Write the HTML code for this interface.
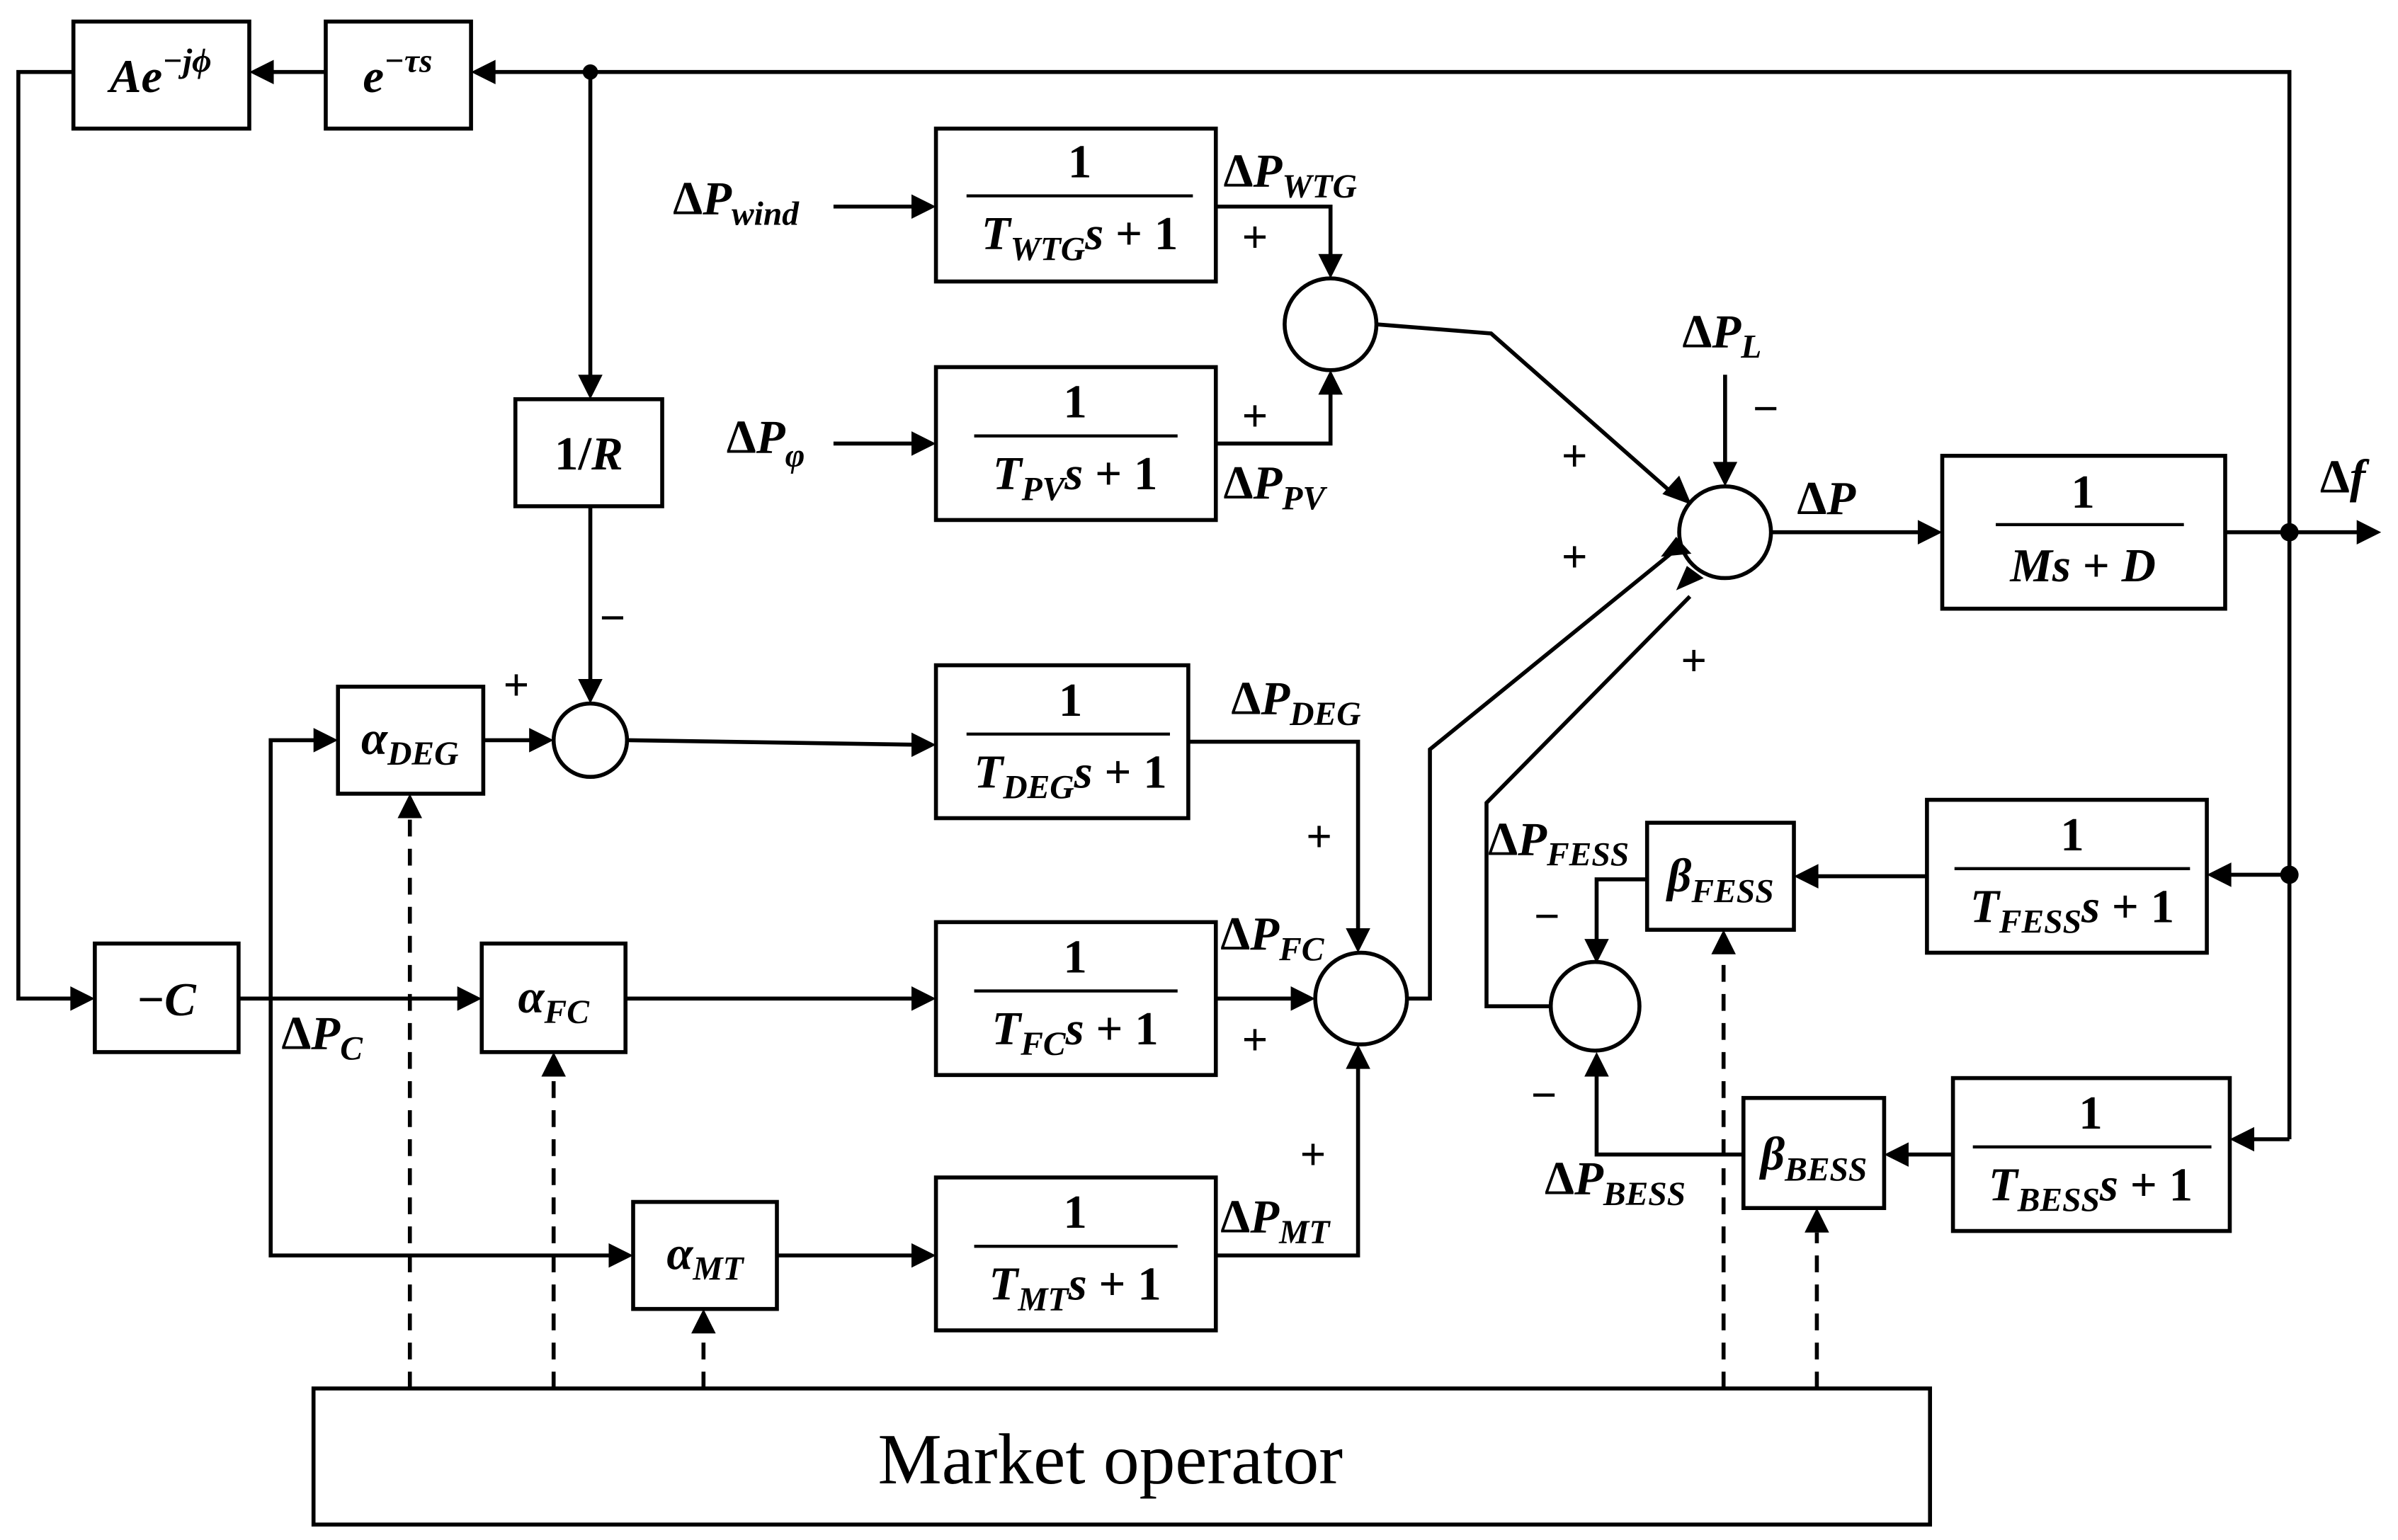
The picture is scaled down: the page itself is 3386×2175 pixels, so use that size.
<!DOCTYPE html>
<html><head><meta charset="utf-8"><style>
html,body{margin:0;padding:0;background:#fff;}
svg{display:block}
text{font-family:"Liberation Serif",serif;font-weight:bold;font-style:italic;fill:#000;}
.n{font-style:normal}
.sub{font-size:22px}
</style></head><body>
<svg width="3386" height="2175" viewBox="0 0 1568 1007" xmlns="http://www.w3.org/2000/svg">
<g fill="none" stroke="#000" stroke-width="2.6">
<rect x="48" y="14" width="115" height="70"/>
<rect x="213" y="14" width="95" height="70"/>
<rect x="337" y="261" width="96" height="70"/>
<rect x="221" y="449" width="95" height="70"/>
<rect x="62" y="617" width="94" height="71"/>
<rect x="315" y="617" width="94" height="71"/>
<rect x="414" y="786" width="94" height="70"/>
<rect x="612" y="84" width="183" height="100"/>
<rect x="612" y="240" width="183" height="100"/>
<rect x="612" y="435" width="165" height="100"/>
<rect x="612" y="603" width="183" height="100"/>
<rect x="612" y="770" width="183" height="100"/>
<rect x="1270" y="298" width="185" height="100"/>
<rect x="1260" y="523" width="183" height="100"/>
<rect x="1277" y="705" width="181" height="100"/>
<rect x="1077" y="538" width="96" height="70"/>
<rect x="1140" y="718" width="92" height="72"/>
<rect x="205" y="908" width="1057" height="89"/>
<circle cx="386" cy="484" r="24"/>
<circle cx="870" cy="212" r="30"/>
<circle cx="1128" cy="348" r="30"/>
<circle cx="890" cy="653" r="30"/>
<circle cx="1043" cy="658" r="29"/>
<polyline points="1497,745 1497,47 320,47"/>
<line x1="213" y1="47" x2="175" y2="47"/>
<polyline points="48,47 12,47 12,653 50,653"/>
<line x1="386" y1="47" x2="386" y2="249"/>
<line x1="386" y1="331" x2="386" y2="448"/>
<line x1="156" y1="653" x2="303" y2="653"/>
<polyline points="177,653 177,484 209,484"/>
<polyline points="177,653 177,821 402,821"/>
<line x1="316" y1="484" x2="350" y2="484"/>
<line x1="410" y1="484" x2="600" y2="487"/>
<line x1="409" y1="653" x2="600" y2="653"/>
<line x1="508" y1="821" x2="600" y2="821"/>
<line x1="545" y1="135" x2="600" y2="135"/>
<line x1="545" y1="290" x2="600" y2="290"/>
<polyline points="795,135 870,135 870,170"/>
<polyline points="795,290 870,290 870,254"/>
<polyline points="900,212 975,218 1093,322"/>
<line x1="1128" y1="245" x2="1128" y2="306"/>
<line x1="1158" y1="348" x2="1258" y2="348"/>
<line x1="1455" y1="348" x2="1545" y2="348"/>
<polyline points="777,485 888,485 888,611"/>
<polyline points="795,821 888,821 888,695"/>
<line x1="795" y1="653" x2="848" y2="653"/>
<polyline points="920,653 935,653 935,490 1095,360"/>
<polyline points="1014,658 972,658 972,525 1105,390"/>
<line x1="1497" y1="572" x2="1455" y2="572"/>
<line x1="1497" y1="745" x2="1470" y2="745"/>
<line x1="1260" y1="573" x2="1185" y2="573"/>
<line x1="1277" y1="755" x2="1244" y2="755"/>
<polyline points="1077,575 1044,575 1044,617"/>
<polyline points="1140,755 1044,755 1044,700"/>
<g stroke-dasharray="11,8">
<line x1="268" y1="908" x2="268" y2="534"/>
<line x1="362" y1="908" x2="362" y2="703"/>
<line x1="460" y1="908" x2="460" y2="872"/>
<line x1="1127" y1="908" x2="1127" y2="624"/>
<line x1="1188" y1="908" x2="1188" y2="806"/>
</g>
<g stroke-width="2">
<line x1="632" y1="128" x2="780" y2="128"/>
<line x1="637" y1="285" x2="770" y2="285"/>
<line x1="632" y1="480" x2="765" y2="480"/>
<line x1="637" y1="648" x2="770" y2="648"/>
<line x1="637" y1="815" x2="770" y2="815"/>
<line x1="1305" y1="343" x2="1428" y2="343"/>
<line x1="1278" y1="568" x2="1432" y2="568"/>
<line x1="1290" y1="750" x2="1446" y2="750"/>
</g>
</g>
<g fill="#000">
<polygon points="308,47 324,39 324,55"/>
<polygon points="163,47 179,39 179,55"/>
<polygon points="62,653 46,645 46,661"/>
<polygon points="386,261 378,245 394,245"/>
<polygon points="386,460 378,444 394,444"/>
<polygon points="315,653 299,645 299,661"/>
<polygon points="221,484 205,476 205,492"/>
<polygon points="414,821 398,813 398,829"/>
<polygon points="362,484 346,476 346,492"/>
<polygon points="612,487 596,479 596,495"/>
<polygon points="612,653 596,645 596,661"/>
<polygon points="612,821 596,813 596,829"/>
<polygon points="612,135 596,127 596,143"/>
<polygon points="612,290 596,282 596,298"/>
<polygon points="870,182 862,166 878,166"/>
<polygon points="870,242 862,258 878,258"/>
<polygon points="1128,318 1120,302 1136,302"/>
<polygon points="1270,348 1254,340 1254,356"/>
<polygon points="1557,348 1541,340 1541,356"/>
<polygon points="888,623 880,607 896,607"/>
<polygon points="888,683 880,699 896,699"/>
<polygon points="860,653 844,645 844,661"/>
<polygon points="1443,572 1459,564 1459,580"/>
<polygon points="1458,745 1474,737 1474,753"/>
<polygon points="1173,573 1189,565 1189,581"/>
<polygon points="1232,755 1248,747 1248,763"/>
<polygon points="1044,630 1036,614 1052,614"/>
<polygon points="1044,688 1036,704 1052,704"/>
<polygon points="268,519 260,535 276,535"/>
<polygon points="362,688 354,704 370,704"/>
<polygon points="460,856 452,872 468,872"/>
<polygon points="1127,608 1119,624 1135,624"/>
<polygon points="1188,790 1180,806 1196,806"/>
<polygon points="1106,330 1087,323 1098,311"/>
<polygon points="1106,362 1086,364 1096,351"/>
<polygon points="1114,378 1096,386 1103,370"/>
<circle cx="386" cy="47" r="5"/>
<circle cx="1497" cy="348" r="6"/>
<circle cx="1497" cy="572" r="6"/>
</g>
<g font-size="31">
<text x="105" y="60" text-anchor="middle">Ae<tspan class="sub" dy="-13">−jϕ</tspan></text>
<text x="260" y="60" text-anchor="middle">e<tspan class="sub" dy="-13">−τs</tspan></text>
<text x="385" y="307" text-anchor="middle"><tspan class="n">1/</tspan>R</text>
<text x="268" y="493" text-anchor="middle">α<tspan class="sub" dy="7">DEG</tspan></text>
<text x="109" y="664" text-anchor="middle" class="n">−<tspan style="font-style:italic">C</tspan></text>
<text x="362" y="662" text-anchor="middle">α<tspan class="sub" dy="7">FC</tspan></text>
<text x="461" y="830" text-anchor="middle">α<tspan class="sub" dy="7">MT</tspan></text>
<text x="1125" y="583" text-anchor="middle">β<tspan class="sub" dy="7">FESS</tspan></text>
<text x="1186" y="765" text-anchor="middle">β<tspan class="sub" dy="7">BESS</tspan></text>
<text x="706" y="116" text-anchor="middle" class="n">1</text>
<text x="706" y="163" text-anchor="middle">T<tspan class="sub" dy="7">WTG</tspan><tspan dy="-7">s</tspan><tspan class="n"> + 1</tspan></text>
<text x="703" y="273" text-anchor="middle" class="n">1</text>
<text x="703" y="320" text-anchor="middle">T<tspan class="sub" dy="7">PV</tspan><tspan dy="-7">s</tspan><tspan class="n"> + 1</tspan></text>
<text x="700" y="468" text-anchor="middle" class="n">1</text>
<text x="700" y="515" text-anchor="middle">T<tspan class="sub" dy="7">DEG</tspan><tspan dy="-7">s</tspan><tspan class="n"> + 1</tspan></text>
<text x="703" y="636" text-anchor="middle" class="n">1</text>
<text x="703" y="683" text-anchor="middle">T<tspan class="sub" dy="7">FC</tspan><tspan dy="-7">s</tspan><tspan class="n"> + 1</tspan></text>
<text x="703" y="803" text-anchor="middle" class="n">1</text>
<text x="703" y="850" text-anchor="middle">T<tspan class="sub" dy="7">MT</tspan><tspan dy="-7">s</tspan><tspan class="n"> + 1</tspan></text>
<text x="1362" y="332" text-anchor="middle" class="n">1</text>
<text x="1362" y="380" text-anchor="middle">Ms<tspan class="n"> + </tspan>D</text>
<text x="1355" y="556" text-anchor="middle" class="n">1</text>
<text x="1355" y="603" text-anchor="middle">T<tspan class="sub" dy="7">FESS</tspan><tspan dy="-7">s</tspan><tspan class="n"> + 1</tspan></text>
<text x="1367" y="738" text-anchor="middle" class="n">1</text>
<text x="1367" y="785" text-anchor="middle">T<tspan class="sub" dy="7">BESS</tspan><tspan dy="-7">s</tspan><tspan class="n"> + 1</tspan></text>
<text x="440" y="140"><tspan class="n">Δ</tspan>P<tspan class="sub" dy="7">wind</tspan></text>
<text x="475" y="296"><tspan class="n">Δ</tspan>P<tspan class="sub" dy="9">φ</tspan></text>
<text x="800" y="122"><tspan class="n">Δ</tspan>P<tspan class="sub" dy="7">WTG</tspan></text>
<text x="800" y="326"><tspan class="n">Δ</tspan>P<tspan class="sub" dy="7">PV</tspan></text>
<text x="805" y="467"><tspan class="n">Δ</tspan>P<tspan class="sub" dy="7">DEG</tspan></text>
<text x="798" y="621"><tspan class="n">Δ</tspan>P<tspan class="sub" dy="7">FC</tspan></text>
<text x="798" y="806"><tspan class="n">Δ</tspan>P<tspan class="sub" dy="7">MT</tspan></text>
<text x="184" y="686"><tspan class="n">Δ</tspan>P<tspan class="sub" dy="7">C</tspan></text>
<text x="1100" y="227"><tspan class="n">Δ</tspan>P<tspan class="sub" dy="7">L</tspan></text>
<text x="1175" y="336"><tspan class="n">Δ</tspan>P</text>
<text x="1517" y="322"><tspan class="n">Δ</tspan>f</text>
<text x="973" y="559"><tspan class="n">Δ</tspan>P<tspan class="sub" dy="7">FESS</tspan></text>
<text x="1010" y="781"><tspan class="n">Δ</tspan>P<tspan class="sub" dy="7">BESS</tspan></text>
</g>
<g font-size="30">
<text class="n" x="329" y="458">+</text>
<text class="n" x="392" y="414">−</text>
<text class="n" x="812" y="165">+</text>
<text class="n" x="812" y="282">+</text>
<text class="n" x="1021" y="308">+</text>
<text class="n" x="1021" y="374">+</text>
<text class="n" x="1099" y="442">+</text>
<text class="n" x="1146" y="277">−</text>
<text class="n" x="854" y="557">+</text>
<text class="n" x="812" y="690">+</text>
<text class="n" x="850" y="765">+</text>
<text class="n" x="1003" y="609">−</text>
<text class="n" x="1001" y="726">−</text>
</g>
<text x="726" y="970" font-size="47" text-anchor="middle" style="font-weight:normal;font-style:normal">Market operator</text>
</svg>
</body></html>
